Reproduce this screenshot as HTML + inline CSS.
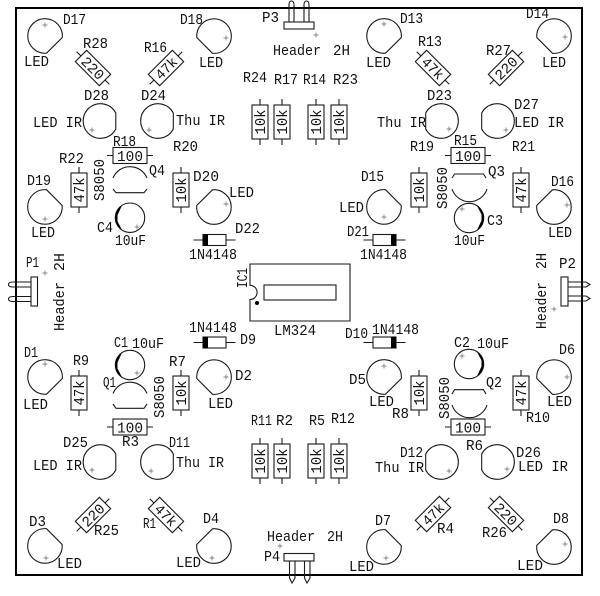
<!DOCTYPE html>
<html><head><meta charset="utf-8"><style>
html,body{margin:0;padding:0;background:#fff}
svg{display:block}
text{font-family:"Liberation Mono",monospace;font-size:14.5px;fill:#111;stroke:none}
.s{fill:none;stroke:#1a1a1a;stroke-width:1.1}
</style></head><body>
<svg width="600" height="596" viewBox="0 0 600 596" xmlns="http://www.w3.org/2000/svg">
<defs>
<path id="l" class="s" d="M17.3 1.5A17.3 17.3 0 1 0 1.5 17.2Z"/>
<path id="i" class="s" d="M15.3-8A17.3 17.3 0 1 0 15.3 8Z"/>
<g id="r"><rect class="s" x="-17" y="-8" width="34" height="16"/><path class="s" d="M-23 0H-17M17 0H23"/></g>
<g id="c"><circle class="s" r="14.7"/><path fill="#000" d="M-8-12.3A14.7 14.7 0 0 0-8 12.3L-12.5 3.5V-2.5Z"/></g>
<g id="d"><rect class="s" x="-11.5" y="-5.5" width="23" height="11"/><rect x="-11.5" y="-5.5" width="5" height="11" fill="#000"/><path class="s" d="M-21 0H-11.5M11.5 0H21"/></g>
</defs>
<rect x="16" y="8" width="566" height="567" fill="none" stroke="#000" stroke-width="2"/>

<!-- LEDs -->
<use href="#l" transform="translate(45,36)"/>
<use href="#l" transform="translate(214,36) rotate(90)"/>
<use href="#l" transform="translate(384,36)"/>
<use href="#l" transform="translate(554,36) rotate(90)"/>
<use href="#l" transform="translate(45,207) rotate(270)"/>
<use href="#l" transform="translate(214,207) rotate(180)"/>
<use href="#l" transform="translate(384,207) rotate(270)"/>
<use href="#l" transform="translate(554,207) rotate(180)"/>
<use href="#l" transform="translate(45,377)"/>
<use href="#l" transform="translate(214,377) rotate(90)"/>
<use href="#l" transform="translate(384,377)"/>
<use href="#l" transform="translate(554,377) rotate(90)"/>
<use href="#l" transform="translate(45,546) rotate(270)"/>
<use href="#l" transform="translate(214,546) rotate(180)"/>
<use href="#l" transform="translate(384,547) rotate(270)"/>
<use href="#l" transform="translate(554,547) rotate(180)"/>
<!-- IR LEDs -->
<use href="#i" transform="translate(100.5,121)"/>
<use href="#i" transform="translate(158,121)"/>
<use href="#i" transform="translate(441,121) rotate(180)"/>
<use href="#i" transform="translate(497,121) rotate(180)"/>
<use href="#i" transform="translate(100.5,462)"/>
<use href="#i" transform="translate(158,462)"/>
<use href="#i" transform="translate(441,462) rotate(180)"/>
<use href="#i" transform="translate(497,462) rotate(180)"/>
<!-- plus marks -->
<path fill="none" stroke="#666" stroke-width="0.7" d="M42.5 25h5M45 22.5v5M223.500 38h5M226 35.500v5M381.500 24h5M384 21.500v5M562.500 37h5M565 34.500v5M42.500 219h5M45 216.500v5M223.500 204h5M226 201.500v5M381.500 217h5M384 214.500v5M564.500 205h5M567 202.500v5M42.500 364h5M45 361.500v5M223.500 377h5M226 374.500v5M381.500 366h5M384 363.500v5M564.500 377h5M567 374.500v5M43.500 558h5M46 555.500v5M209.500 558h5M212 555.500v5M383.500 558h5M386 555.500v5M562.500 544h5M565 541.500v5M89.500 130h5M92 127.500v5M146.500 130h5M149 127.500v5M446.500 129h5M449 126.500v5M503.500 130h5M506 127.500v5M89.500 470h5M92 467.500v5M148.500 471h5M151 468.500v5M446.500 471h5M449 468.500v5M504.500 469h5M507 466.500v5M134.500 227h5M137 224.500v5M459.500 209h5M462 206.500v5M134.500 373h5M137 370.500v5M459.500 356h5M462 353.500v5M313.500 35h5M316 32.500v5M277.500 546h5M280 543.500v5M42.500 273h5M45 270.500v5M551.500 309h5M554 306.500v5"/>

<!-- Vertical resistors -->
<g transform="translate(79,190) rotate(-90)"><use href="#r"/><text x="0" y="5" text-anchor="middle" textLength="25" lengthAdjust="spacingAndGlyphs">47k</text></g>
<g transform="translate(181,190) rotate(-90)"><use href="#r"/><text x="0" y="5" text-anchor="middle" textLength="25" lengthAdjust="spacingAndGlyphs">10k</text></g>
<g transform="translate(419,190) rotate(-90)"><use href="#r"/><text x="0" y="5" text-anchor="middle" textLength="25" lengthAdjust="spacingAndGlyphs">10k</text></g>
<g transform="translate(521,190) rotate(-90)"><use href="#r"/><text x="0" y="5" text-anchor="middle" textLength="25" lengthAdjust="spacingAndGlyphs">47k</text></g>
<g transform="translate(79,393) rotate(-90)"><use href="#r"/><text x="0" y="5" text-anchor="middle" textLength="25" lengthAdjust="spacingAndGlyphs">47k</text></g>
<g transform="translate(181,393) rotate(-90)"><use href="#r"/><text x="0" y="5" text-anchor="middle" textLength="25" lengthAdjust="spacingAndGlyphs">10k</text></g>
<g transform="translate(419,393) rotate(-90)"><use href="#r"/><text x="0" y="5" text-anchor="middle" textLength="25" lengthAdjust="spacingAndGlyphs">10k</text></g>
<g transform="translate(521,393) rotate(-90)"><use href="#r"/><text x="0" y="5" text-anchor="middle" textLength="25" lengthAdjust="spacingAndGlyphs">47k</text></g>
<g transform="translate(260,122) rotate(-90)"><use href="#r"/><text x="0" y="5" text-anchor="middle" textLength="25" lengthAdjust="spacingAndGlyphs">10k</text></g>
<g transform="translate(282,122) rotate(-90)"><use href="#r"/><text x="0" y="5" text-anchor="middle" textLength="25" lengthAdjust="spacingAndGlyphs">10k</text></g>
<g transform="translate(316,122) rotate(-90)"><use href="#r"/><text x="0" y="5" text-anchor="middle" textLength="25" lengthAdjust="spacingAndGlyphs">10k</text></g>
<g transform="translate(339,122) rotate(-90)"><use href="#r"/><text x="0" y="5" text-anchor="middle" textLength="25" lengthAdjust="spacingAndGlyphs">10k</text></g>
<g transform="translate(260,461) rotate(-90)"><use href="#r"/><text x="0" y="5" text-anchor="middle" textLength="25" lengthAdjust="spacingAndGlyphs">10k</text></g>
<g transform="translate(282,461) rotate(-90)"><use href="#r"/><text x="0" y="5" text-anchor="middle" textLength="25" lengthAdjust="spacingAndGlyphs">10k</text></g>
<g transform="translate(316,461) rotate(-90)"><use href="#r"/><text x="0" y="5" text-anchor="middle" textLength="25" lengthAdjust="spacingAndGlyphs">10k</text></g>
<g transform="translate(339,461) rotate(-90)"><use href="#r"/><text x="0" y="5" text-anchor="middle" textLength="25" lengthAdjust="spacingAndGlyphs">10k</text></g>
<!-- Horizontal resistors -->
<g transform="translate(130,155.5)"><use href="#r"/><text x="0" y="5.5" text-anchor="middle" textLength="26" lengthAdjust="spacingAndGlyphs">100</text></g>
<g transform="translate(468,155.5)"><use href="#r"/><text x="0" y="5.5" text-anchor="middle" textLength="26" lengthAdjust="spacingAndGlyphs">100</text></g>
<g transform="translate(130,427)"><use href="#r"/><text x="0" y="5.5" text-anchor="middle" textLength="26" lengthAdjust="spacingAndGlyphs">100</text></g>
<g transform="translate(468,427)"><use href="#r"/><text x="0" y="5.5" text-anchor="middle" textLength="26" lengthAdjust="spacingAndGlyphs">100</text></g>
<!-- Diagonal resistors -->
<g transform="translate(93,68) rotate(45)"><use href="#r"/><text x="0" y="5" text-anchor="middle" textLength="26" lengthAdjust="spacingAndGlyphs">220</text></g>
<g transform="translate(166,68) rotate(-45)"><use href="#r"/><text x="0" y="5" text-anchor="middle" textLength="25" lengthAdjust="spacingAndGlyphs">47k</text></g>
<g transform="translate(433,68) rotate(45)"><use href="#r"/><text x="0" y="5" text-anchor="middle" textLength="25" lengthAdjust="spacingAndGlyphs">47k</text></g>
<g transform="translate(506,68) rotate(-45)"><use href="#r"/><text x="0" y="5" text-anchor="middle" textLength="26" lengthAdjust="spacingAndGlyphs">220</text></g>
<g transform="translate(93,515) rotate(-45)"><use href="#r"/><text x="0" y="5" text-anchor="middle" textLength="26" lengthAdjust="spacingAndGlyphs">220</text></g>
<g transform="translate(166,515) rotate(45)"><use href="#r"/><text x="0" y="5" text-anchor="middle" textLength="25" lengthAdjust="spacingAndGlyphs">47k</text></g>
<g transform="translate(433,514) rotate(-45)"><use href="#r"/><text x="0" y="5" text-anchor="middle" textLength="25" lengthAdjust="spacingAndGlyphs">47k</text></g>
<g transform="translate(506,514) rotate(45)"><use href="#r"/><text x="0" y="5" text-anchor="middle" textLength="26" lengthAdjust="spacingAndGlyphs">220</text></g>

<!-- Transistors -->
<path class="s" d="M113 178A18.4 18.4 0 0 1 147 178M113 189L116 192.7H144L147 189"/>
<path class="s" d="M452 178L454.5 174H483.5L486 178M452 189A18.4 18.4 0 0 0 487 189"/>
<path class="s" d="M113 393.5A18.4 18.4 0 0 1 147 393.5M113 404L116 408.3H144L147 404"/>
<path class="s" d="M452 394L454.5 389.7H483.5L486 394M452 405A18.4 18.4 0 0 0 487 405"/>
<!-- Capacitors -->
<use href="#c" transform="translate(130,217.7)"/>
<use href="#c" transform="translate(469,218) rotate(180)"/>
<use href="#c" transform="translate(130,365)"/>
<use href="#c" transform="translate(469,364) rotate(180)"/>
<!-- Diodes -->
<use href="#d" transform="translate(214.5,240)"/>
<use href="#d" transform="translate(384.5,240) rotate(180)"/>
<use href="#d" transform="translate(214.5,342.5)"/>
<use href="#d" transform="translate(384.5,342.5) rotate(180)"/>
<!-- IC -->
<path class="s" d="M250 264H350V321H250V299.5A7 7 0 0 0 250 285.3Z"/>
<rect class="s" x="264" y="285" width="72" height="15"/>
<circle cx="257" cy="303" r="2" fill="#000"/>
<!-- Headers -->
<rect class="s" x="284" y="22" width="30" height="7" fill="#fff"/>
<path class="s" d="M289 22V5Q289 1 291.5 1Q294 1 294 5V22M304 22V5Q304 1 306.5 1Q309 1 309 5V22"/>
<rect class="s" x="284" y="553.5" width="30" height="7.5"/>
<path class="s" d="M289.5 561V578L292 583L295 578V561M304.5 561V578L307 583L310 578V561"/>
<rect class="s" x="31" y="277" width="6.5" height="29"/>
<path class="s" d="M31 282H13Q8.500 282 8.500 284.500Q8.500 287 13 287H31M31 296.500H13Q8.500 296.500 8.500 299Q8.500 301.500 13 301.500H31"/>
<rect class="s" x="561" y="277" width="7" height="29"/>
<path class="s" d="M568 282H586L590 284.500L586 287H568M568 296H586L590 298.500L586 301H568"/>

<!-- Labels -->
<text x="63" y="24" textLength="23" lengthAdjust="spacingAndGlyphs">D17</text>
<text x="24" y="66" textLength="25" lengthAdjust="spacingAndGlyphs">LED</text>
<text x="83" y="48" textLength="25" lengthAdjust="spacingAndGlyphs">R28</text>
<text x="180" y="24" textLength="23" lengthAdjust="spacingAndGlyphs">D18</text>
<text x="199" y="67" textLength="24" lengthAdjust="spacingAndGlyphs">LED</text>
<text x="144" y="52" textLength="23" lengthAdjust="spacingAndGlyphs">R16</text>
<text x="84" y="100" textLength="25" lengthAdjust="spacingAndGlyphs">D28</text>
<text x="141" y="100" textLength="25" lengthAdjust="spacingAndGlyphs">D24</text>
<text x="33" y="127" textLength="49" lengthAdjust="spacingAndGlyphs">LED IR</text>
<text x="176" y="125" textLength="49" lengthAdjust="spacingAndGlyphs">Thu IR</text>
<text x="113" y="146" textLength="23" lengthAdjust="spacingAndGlyphs">R18</text>
<text x="173" y="151" textLength="25" lengthAdjust="spacingAndGlyphs">R20</text>
<text x="59" y="163" textLength="25" lengthAdjust="spacingAndGlyphs">R22</text>
<text x="149" y="175" textLength="16" lengthAdjust="spacingAndGlyphs">Q4</text>
<text x="27" y="185" textLength="24" lengthAdjust="spacingAndGlyphs">D19</text>
<text x="193" y="181" textLength="26" lengthAdjust="spacingAndGlyphs">D20</text>
<text x="97" y="232" textLength="16" lengthAdjust="spacingAndGlyphs">C4</text>
<text x="31" y="237" textLength="24" lengthAdjust="spacingAndGlyphs">LED</text>
<text x="229" y="197" textLength="25" lengthAdjust="spacingAndGlyphs">LED</text>
<text x="115" y="245" textLength="31" lengthAdjust="spacingAndGlyphs">10uF</text>
<text transform="translate(104,201) rotate(-90)" textLength="42" lengthAdjust="spacingAndGlyphs">S8050</text>

<text x="400" y="23" textLength="23" lengthAdjust="spacingAndGlyphs">D13</text>
<text x="526" y="18" textLength="23" lengthAdjust="spacingAndGlyphs">D14</text>
<text x="366" y="67" textLength="25" lengthAdjust="spacingAndGlyphs">LED</text>
<text x="542" y="67" textLength="24" lengthAdjust="spacingAndGlyphs">LED</text>
<text x="418" y="46" textLength="24" lengthAdjust="spacingAndGlyphs">R13</text>
<text x="486" y="55" textLength="25" lengthAdjust="spacingAndGlyphs">R27</text>
<text x="427" y="100" textLength="25" lengthAdjust="spacingAndGlyphs">D23</text>
<text x="514" y="109" textLength="25" lengthAdjust="spacingAndGlyphs">D27</text>
<text x="377" y="127" textLength="49" lengthAdjust="spacingAndGlyphs">Thu IR</text>
<text x="514" y="127" textLength="50" lengthAdjust="spacingAndGlyphs">LED IR</text>
<text x="410" y="151" textLength="24" lengthAdjust="spacingAndGlyphs">R19</text>
<text x="454" y="145" textLength="23" lengthAdjust="spacingAndGlyphs">R15</text>
<text x="512" y="151" textLength="23" lengthAdjust="spacingAndGlyphs">R21</text>
<text x="488" y="176" textLength="17" lengthAdjust="spacingAndGlyphs">Q3</text>
<text x="361" y="181" textLength="23" lengthAdjust="spacingAndGlyphs">D15</text>
<text x="551" y="186" textLength="23" lengthAdjust="spacingAndGlyphs">D16</text>
<text x="487" y="225" textLength="16" lengthAdjust="spacingAndGlyphs">C3</text>
<text x="339" y="212" textLength="25" lengthAdjust="spacingAndGlyphs">LED</text>
<text x="548" y="237" textLength="24" lengthAdjust="spacingAndGlyphs">LED</text>
<text x="454" y="245" textLength="31" lengthAdjust="spacingAndGlyphs">10uF</text>
<text transform="translate(447,209) rotate(-90)" textLength="42" lengthAdjust="spacingAndGlyphs">S8050</text>

<text x="235" y="233" textLength="25" lengthAdjust="spacingAndGlyphs">D22</text>
<text x="347" y="236" textLength="22" lengthAdjust="spacingAndGlyphs">D21</text>
<text x="189" y="259" textLength="48" lengthAdjust="spacingAndGlyphs">1N4148</text>
<text x="360" y="259" textLength="47" lengthAdjust="spacingAndGlyphs">1N4148</text>
<text transform="translate(247,288) rotate(-90)" textLength="20" lengthAdjust="spacingAndGlyphs">IC1</text>
<text x="274" y="335" textLength="42" lengthAdjust="spacingAndGlyphs">LM324</text>
<text x="189" y="332" textLength="48" lengthAdjust="spacingAndGlyphs">1N4148</text>
<text x="240" y="344" textLength="16" lengthAdjust="spacingAndGlyphs">D9</text>
<text x="345" y="338" textLength="23" lengthAdjust="spacingAndGlyphs">D10</text>
<text x="372" y="334" textLength="47" lengthAdjust="spacingAndGlyphs">1N4148</text>
<text x="235" y="380" textLength="17" lengthAdjust="spacingAndGlyphs">D2</text>
<text x="349" y="384" textLength="17" lengthAdjust="spacingAndGlyphs">D5</text>
<text x="169" y="366" textLength="17" lengthAdjust="spacingAndGlyphs">R7</text>
<text x="208" y="408" textLength="25" lengthAdjust="spacingAndGlyphs">LED</text>

<text x="26" y="267" textLength="13" lengthAdjust="spacingAndGlyphs">P1</text>
<text transform="translate(64,331) rotate(-90)" textLength="49" lengthAdjust="spacingAndGlyphs">Header</text>
<text transform="translate(64,271) rotate(-90)" textLength="18" lengthAdjust="spacingAndGlyphs">2H</text>
<text x="273" y="55" textLength="48" lengthAdjust="spacingAndGlyphs">Header</text>
<text x="333" y="55" textLength="17" lengthAdjust="spacingAndGlyphs">2H</text>
<text x="262" y="22" textLength="17" lengthAdjust="spacingAndGlyphs">P3</text>
<text x="243" y="82" textLength="24" lengthAdjust="spacingAndGlyphs">R24</text>
<text x="274" y="84" textLength="24" lengthAdjust="spacingAndGlyphs">R17</text>
<text x="303" y="84" textLength="23" lengthAdjust="spacingAndGlyphs">R14</text>
<text x="333" y="84" textLength="25" lengthAdjust="spacingAndGlyphs">R23</text>
<text x="251" y="425" textLength="21" lengthAdjust="spacingAndGlyphs">R11</text>
<text x="276" y="425" textLength="17" lengthAdjust="spacingAndGlyphs">R2</text>
<text x="309" y="425" textLength="16" lengthAdjust="spacingAndGlyphs">R5</text>
<text x="331" y="423" textLength="24" lengthAdjust="spacingAndGlyphs">R12</text>
<text x="264" y="561" textLength="16" lengthAdjust="spacingAndGlyphs">P4</text>
<text x="267" y="541" textLength="48" lengthAdjust="spacingAndGlyphs">Header</text>
<text x="327" y="541" textLength="16" lengthAdjust="spacingAndGlyphs">2H</text>
<text x="203" y="523" textLength="16" lengthAdjust="spacingAndGlyphs">D4</text>
<text x="375" y="525" textLength="16" lengthAdjust="spacingAndGlyphs">D7</text>
<text x="349" y="571" textLength="25" lengthAdjust="spacingAndGlyphs">LED</text>
<text x="559" y="268" textLength="17" lengthAdjust="spacingAndGlyphs">P2</text>
<text transform="translate(546,329) rotate(-90)" textLength="47" lengthAdjust="spacingAndGlyphs">Header</text>
<text transform="translate(546,269) rotate(-90)" textLength="16" lengthAdjust="spacingAndGlyphs">2H</text>

<text x="24" y="357" textLength="14" lengthAdjust="spacingAndGlyphs">D1</text>
<text x="114" y="347" textLength="14" lengthAdjust="spacingAndGlyphs">C1</text>
<text x="132" y="348" textLength="32" lengthAdjust="spacingAndGlyphs">10uF</text>
<text x="73" y="365" textLength="16" lengthAdjust="spacingAndGlyphs">R9</text>
<text x="23" y="409" textLength="25" lengthAdjust="spacingAndGlyphs">LED</text>
<text x="103" y="387" textLength="13" lengthAdjust="spacingAndGlyphs">Q1</text>
<text transform="translate(164,418) rotate(-90)" textLength="42" lengthAdjust="spacingAndGlyphs">S8050</text>

<text x="63" y="447" textLength="25" lengthAdjust="spacingAndGlyphs">D25</text>
<text x="122" y="446" textLength="17" lengthAdjust="spacingAndGlyphs">R3</text>
<text x="169" y="447" textLength="21" lengthAdjust="spacingAndGlyphs">D11</text>
<text x="33" y="470" textLength="49" lengthAdjust="spacingAndGlyphs">LED IR</text>
<text x="176" y="467" textLength="48" lengthAdjust="spacingAndGlyphs">Thu IR</text>
<text x="94" y="535" textLength="25" lengthAdjust="spacingAndGlyphs">R25</text>
<text x="143" y="528" textLength="13" lengthAdjust="spacingAndGlyphs">R1</text>
<text x="29" y="526" textLength="17" lengthAdjust="spacingAndGlyphs">D3</text>
<text x="57" y="568" textLength="25" lengthAdjust="spacingAndGlyphs">LED</text>
<text x="176" y="567" textLength="25" lengthAdjust="spacingAndGlyphs">LED</text>

<text x="454" y="347" textLength="16" lengthAdjust="spacingAndGlyphs">C2</text>
<text x="477" y="348" textLength="32" lengthAdjust="spacingAndGlyphs">10uF</text>
<text x="559" y="354" textLength="16" lengthAdjust="spacingAndGlyphs">D6</text>
<text x="369" y="406" textLength="25" lengthAdjust="spacingAndGlyphs">LED</text>
<text x="547" y="406" textLength="25" lengthAdjust="spacingAndGlyphs">LED</text>
<text x="392" y="418" textLength="17" lengthAdjust="spacingAndGlyphs">R8</text>
<text x="526" y="422" textLength="24" lengthAdjust="spacingAndGlyphs">R10</text>
<text x="486" y="387" textLength="16" lengthAdjust="spacingAndGlyphs">Q2</text>
<text transform="translate(449,419) rotate(-90)" textLength="42" lengthAdjust="spacingAndGlyphs">S8050</text>
<text x="466" y="450" textLength="17" lengthAdjust="spacingAndGlyphs">R6</text>
<text x="400" y="457" textLength="23" lengthAdjust="spacingAndGlyphs">D12</text>
<text x="375" y="472" textLength="49" lengthAdjust="spacingAndGlyphs">Thu IR</text>
<text x="516" y="457" textLength="25" lengthAdjust="spacingAndGlyphs">D26</text>
<text x="518" y="471" textLength="50" lengthAdjust="spacingAndGlyphs">LED IR</text>
<text x="437" y="533" textLength="17" lengthAdjust="spacingAndGlyphs">R4</text>
<text x="482" y="537" textLength="25" lengthAdjust="spacingAndGlyphs">R26</text>
<text x="553" y="523" textLength="16" lengthAdjust="spacingAndGlyphs">D8</text>
<text x="517" y="570" textLength="26" lengthAdjust="spacingAndGlyphs">LED</text>
</svg>
</body></html>
